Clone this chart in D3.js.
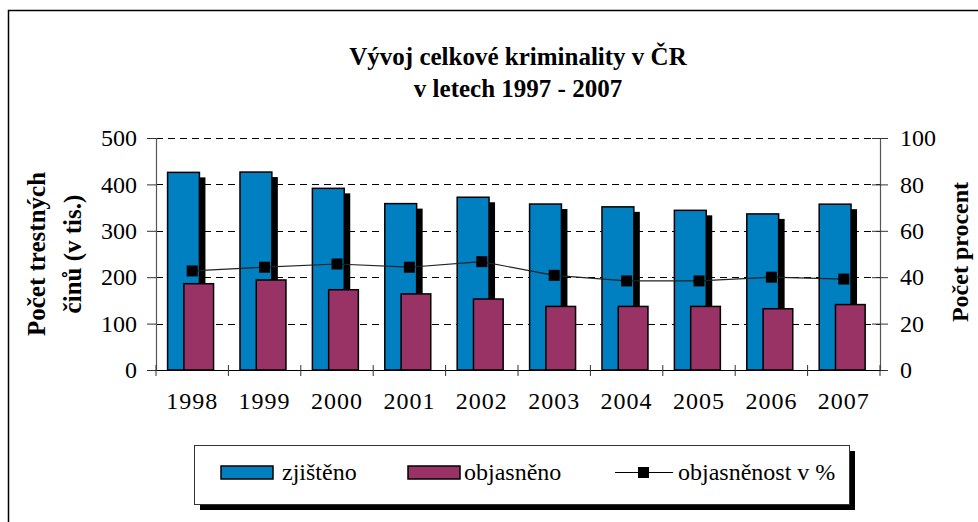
<!DOCTYPE html>
<html lang="en">

<head>
    <meta charset="UTF-8">
    <script src="https://d3js.org/d3.v7.min.js"></script>
    <title>Vývoj celkové kriminality v ČR</title>
</head>

<body style="margin:0">
    <script>
        // data (values in thousands / percent)
        let years = ["1998", "1999", "2000", "2001", "2002", "2003", "2004", "2005", "2006", "2007"];
        let zjisteno = [425.9, 426.6, 391.5, 358.6, 372.3, 357.7, 351.6, 344.1, 336.4, 357.4];
        let objasneno = [186, 194, 173, 164, 153, 137, 137, 137, 132, 141];
        let objasnenost = [42.7, 44.3, 45.7, 44.3, 46.7, 40.8, 38.4, 38.4, 40.0, 39.2];
        let leftTicks = [0, 100, 200, 300, 400, 500];
        let rightTicks = [0, 20, 40, 60, 80, 100];
        let legendNames = ["zjištěno", "objasněno", "objasněnost v %"];

        let blue = "#0080c0";
        let purple = "#993366";
        let serif = "'Liberation Serif'";

        let width = 978, height = 522;
        let plot = { left: 156, right: 880, top: 138, bottom: 370 };

        let svg = d3.select("body").append("svg")
            .attr("width", width)
            .attr("height", height);

        // outer chart frame (continues past the right and bottom edge)
        svg.append("rect")
            .attr("x", 8.5).attr("y", 10.5)
            .attr("width", 1000).attr("height", 600)
            .attr("fill", "none")
            .attr("stroke", "#000")
            .attr("stroke-width", 1.5);

        let x = d3.scaleBand()
            .domain(years)
            .range([plot.left, plot.right]);
        let yLeft = d3.scaleLinear().domain([0, 500]).range([plot.bottom, plot.top]);
        let yRight = d3.scaleLinear().domain([0, 100]).range([plot.bottom, plot.top]);
        let bw = x.bandwidth();

        // title
        let title = svg.append("text")
            .attr("text-anchor", "middle")
            .style("font-family", serif)
            .style("font-size", "25px")
            .style("font-weight", "bold");
        title.append("tspan").attr("x", 518).attr("y", 65).text("Vývoj celkové kriminality v ČR");
        title.append("tspan").attr("x", 518).attr("y", 97).text("v letech 1997 - 2007");

        // dashed gridlines
        svg.append("g")
            .selectAll("line")
            .data(leftTicks.filter(t => t > 0))
            .join("line")
            .attr("x1", plot.left).attr("x2", plot.right)
            .attr("y1", d => Math.round(yLeft(d)) + 0.5)
            .attr("y2", d => Math.round(yLeft(d)) + 0.5)
            .attr("stroke", "#000")
            .attr("stroke-dasharray", "7,5");

        // clip for the bar shadow
        svg.append("clipPath").attr("id", "plotClip")
            .append("rect")
            .attr("x", plot.left).attr("y", plot.top)
            .attr("width", plot.right - plot.left + 10)
            .attr("height", plot.bottom - plot.top);

        let rows = years.map((yr, i) => ({ yr: yr, z: zjisteno[i], o: objasneno[i], p: objasnenost[i] }));

        svg.append("g")
            .attr("clip-path", "url(#plotClip)")
            .selectAll("rect")
            .data(rows)
            .join("rect")
            .attr("x", d => x(d.yr) + bw * 0.16 + 6)
            .attr("y", d => yLeft(d.z) + 5)
            .attr("width", bw * 0.44)
            .attr("height", d => plot.bottom - yLeft(d.z))
            .attr("fill", "#000");

        svg.append("g")
            .selectAll("rect")
            .data(rows)
            .join("rect")
            .attr("x", d => x(d.yr) + bw * 0.16)
            .attr("y", d => yLeft(d.z))
            .attr("width", bw * 0.44)
            .attr("height", d => plot.bottom - yLeft(d.z))
            .attr("fill", blue)
            .attr("stroke", "#000")
            .attr("stroke-width", 1.5);

        svg.append("g")
            .selectAll("rect")
            .data(rows)
            .join("rect")
            .attr("x", d => x(d.yr) + bw * 0.385)
            .attr("y", d => yLeft(d.o))
            .attr("width", bw * 0.41)
            .attr("height", d => plot.bottom - yLeft(d.o))
            .attr("fill", purple)
            .attr("stroke", "#000")
            .attr("stroke-width", 1.5);

        // percent line on right axis
        let line = d3.line()
            .x(d => x(d.yr) + bw / 2)
            .y(d => yRight(d.p));

        svg.append("path")
            .datum(rows)
            .attr("d", line)
            .attr("fill", "none")
            .attr("stroke", "#222")
            .attr("stroke-width", 1.2);

        svg.append("g")
            .selectAll("rect")
            .data(rows)
            .join("rect")
            .attr("x", d => x(d.yr) + bw / 2 - 5.5)
            .attr("y", d => yRight(d.p) - 5.5)
            .attr("width", 11)
            .attr("height", 11)
            .attr("fill", "#000");

        // axes
        let axisLeft = svg.append("g")
            .attr("transform", "translate(" + plot.left + ",0)")
            .call(d3.axisLeft(yLeft).tickValues(leftTicks).tickSize(9).tickPadding(10));
        let axisRight = svg.append("g")
            .attr("transform", "translate(" + plot.right + ",0)")
            .call(d3.axisRight(yRight).tickValues(rightTicks).tickSize(8).tickPadding(12));
        axisRight.selectAll(".tick line").attr("x1", -8);

        let axisBottom = svg.append("g")
            .attr("transform", "translate(0," + plot.bottom + ")")
            .call(d3.axisBottom(x).tickSize(0).tickPadding(22));

        // category separators on the bottom axis
        svg.append("g")
            .selectAll("line")
            .data(years.concat(["end"]))
            .join("line")
            .attr("x1", (d, i) => plot.left + i * bw)
            .attr("x2", (d, i) => plot.left + i * bw)
            .attr("y1", plot.bottom - 5)
            .attr("y2", plot.bottom + 6)
            .attr("stroke", "#333");

        [axisLeft, axisRight, axisBottom].forEach(a => {
            a.attr("font-family", null);
            a.select(".domain").attr("stroke", "#555").attr("stroke-width", 1.2);
            a.selectAll(".tick line").attr("stroke", "#333");
            a.selectAll("text")
                .style("font-family", serif)
                .style("font-size", "24px")
                .attr("fill", "#000");
        });
        axisBottom.select(".domain").attr("stroke", "#000");
        axisBottom.selectAll(".tick text").style("letter-spacing", "1px");

        // axis titles
        let leftTitle = svg.append("text")
            .attr("transform", "translate(0,254) rotate(-90)")
            .attr("text-anchor", "middle")
            .style("font-family", serif)
            .style("font-size", "25px")
            .style("font-weight", "bold");
        leftTitle.append("tspan").attr("x", 0).attr("y", 45).text("Počet trestných");
        leftTitle.append("tspan").attr("x", 0).attr("y", 81).text("činů (v tis.)");

        svg.append("text")
            .attr("transform", "translate(968,252) rotate(-90)")
            .attr("text-anchor", "middle")
            .style("font-family", serif)
            .style("font-size", "24px")
            .style("font-weight", "bold")
            .text("Počet procent");

        // legend
        let legend = svg.append("g");
        legend.append("rect")
            .attr("x", 200).attr("y", 451)
            .attr("width", 655).attr("height", 59)
            .attr("fill", "#000");
        legend.append("rect")
            .attr("x", 194.5).attr("y", 445.5)
            .attr("width", 655).attr("height", 59)
            .attr("fill", "#fff")
            .attr("stroke", "#333");

        let swatchX = [221, 408];
        [blue, purple].forEach((c, i) => {
            legend.append("rect")
                .attr("x", swatchX[i]).attr("y", 466)
                .attr("width", 52).attr("height", 13)
                .attr("fill", c)
                .attr("stroke", "#000")
                .attr("stroke-width", 1.5);
        });
        legend.append("line")
            .attr("x1", 615).attr("x2", 673)
            .attr("y1", 472.5).attr("y2", 472.5)
            .attr("stroke", "#000");
        legend.append("rect")
            .attr("x", 638).attr("y", 467)
            .attr("width", 11).attr("height", 11)
            .attr("fill", "#000");

        let labelX = [282, 464, 678];
        legendNames.forEach((n, i) => {
            legend.append("text")
                .attr("x", labelX[i]).attr("y", 480)
                .style("font-family", serif)
                .style("font-size", "24px")
                .text(n);
        });
    </script>
</body>

</html>
